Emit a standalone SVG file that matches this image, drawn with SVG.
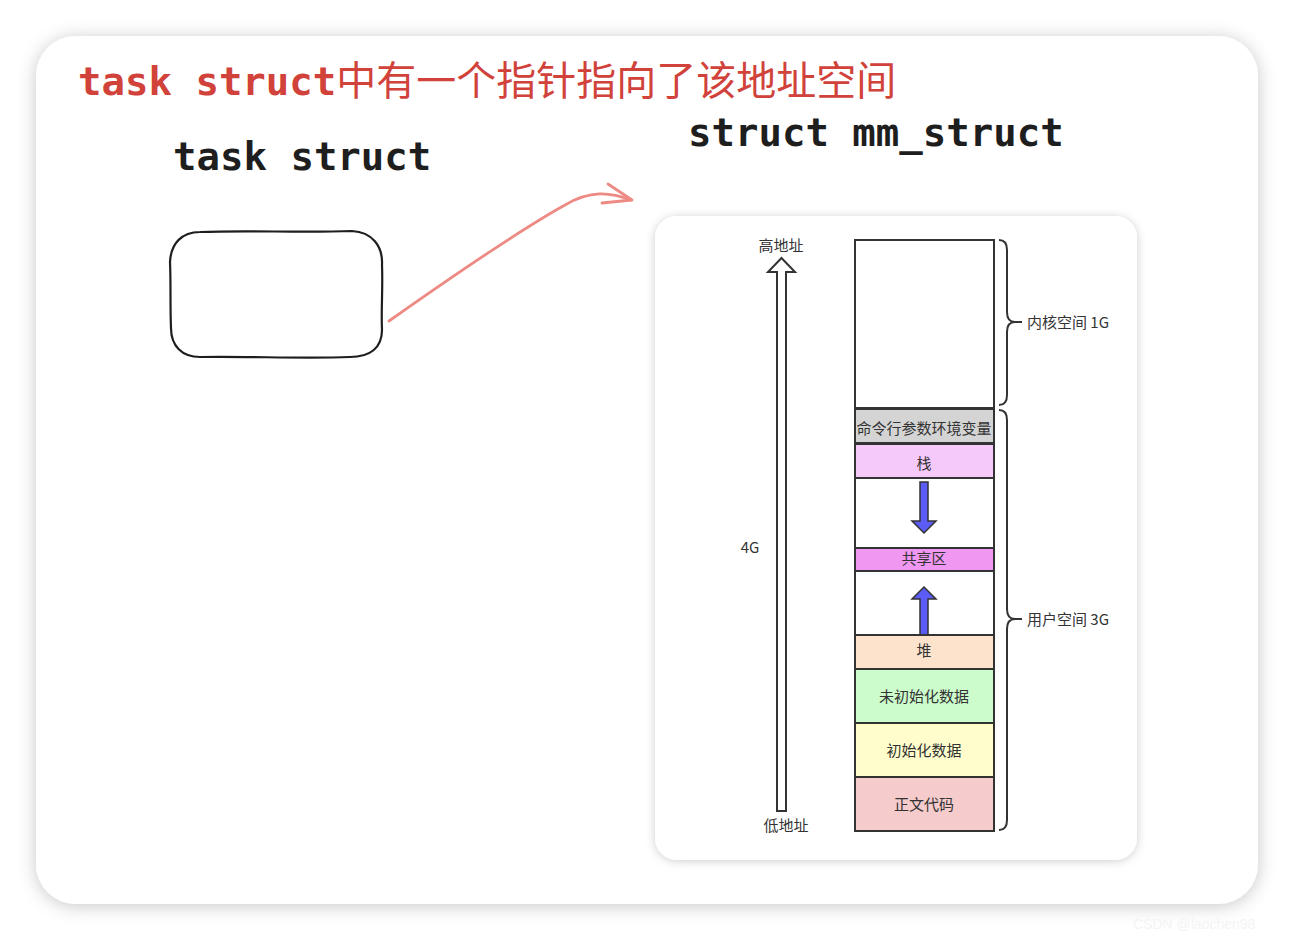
<svg xmlns="http://www.w3.org/2000/svg" width="1294" height="940" viewBox="0 0 1294 940">
<defs>
<filter id="sh" x="-10%" y="-10%" width="120%" height="120%">
<feDropShadow dx="0" dy="2" stdDeviation="9" flood-color="#000" flood-opacity="0.22"/>
</filter>
<filter id="sh2" x="-10%" y="-10%" width="120%" height="120%">
<feDropShadow dx="0" dy="1" stdDeviation="5" flood-color="#000" flood-opacity="0.2"/>
</filter>
<style>
.mono{font-family:"DejaVu Sans Mono","Liberation Mono",monospace;font-weight:bold;font-size:39px;fill:#1e1e1e}
.cjk{font-family:"Noto Sans CJK SC","Noto Sans",sans-serif;font-size:15px;fill:#333}
.seg{stroke:#333;stroke-width:2}
.lbl{font-family:"Noto Sans CJK SC","Noto Sans",sans-serif;font-size:15px;fill:#333;text-anchor:middle}
.brace{fill:none;stroke:#333;stroke-width:2}
.blue{fill:#5b5bf6;stroke:#333;stroke-width:1.5}
</style>
</defs>
<rect width="1294" height="940" fill="#ffffff"/>
<rect x="36" y="36" width="1222" height="868" rx="40" fill="#fff" filter="url(#sh)"/>
<text x="78" y="95" class="mono" style="fill:#d1423b">task struct<tspan style="font-family:'Noto Sans CJK SC',sans-serif;font-weight:400;font-size:40px">中有一个指针指向了该地址空间</tspan></text>
<g id="task_struct">
<text x="173" y="170" class="mono">task struct</text>
<path d="M200,232 C250,230 300,233 352,231 C372,232 383,246 382,265 C383,290 381,310 382,330 C382,348 370,357 350,357 C300,359 250,356 200,357 C182,357 171,346 171,328 C170,305 171,285 170,262 C171,243 182,232 200,232 Z" fill="#fff" stroke="#1e1e1e" stroke-width="2.2"/>
</g>
<g id="connectors">
<path d="M389,321 C450,278 520,230 565,205 C590,190 610,192 631,200" fill="none" stroke="#ee8a84" stroke-width="2.8" stroke-linecap="round"/>
<path d="M608,184 L632,200 L602,203" fill="none" stroke="#ee8a84" stroke-width="2.8" stroke-linecap="round" stroke-linejoin="round"/>
</g>
<g id="mm_struct">
<text x="688" y="146" class="mono">struct mm_struct</text>
<rect x="655" y="216" width="482" height="644" rx="22" fill="#fff" filter="url(#sh2)"/>
<g id="addr_arrow">
<path d="M777,811 L777,272 L768,272 L781.5,258 L795,272 L786,272 L786,811 Z" fill="#fff" stroke="#333" stroke-width="2"/>
<text x="781" y="251" class="cjk" text-anchor="middle">高地址</text>
<text x="786" y="831" class="cjk" text-anchor="middle">低地址</text>
<text x="750" y="553" class="cjk" text-anchor="middle">4G</text>
</g>
<g id="kernel"><rect x="855" y="240" width="139" height="168" fill="#fff" class="seg"/></g>
<g id="env"><rect x="855" y="409" width="139" height="34" fill="#d4d4d4" class="seg"/><text x="924" y="434" class="lbl">命令行参数环境变量</text></g>
<g id="stack"><rect x="855" y="444" width="139" height="34" fill="#f5c9f9" class="seg"/><text x="924" y="469" class="lbl">栈</text></g>
<g id="gap1"><rect x="855" y="478" width="139" height="70" fill="#fff" class="seg"/>
<path d="M920,482 L928,482 L928,521 L936,521 L924,533 L912,521 L920,521 Z" class="blue"/></g>
<g id="shared"><rect x="855" y="548" width="139" height="23" fill="#ef97f1" class="seg"/><text x="924" y="564" class="lbl">共享区</text></g>
<g id="gap2"><rect x="855" y="571" width="139" height="64" fill="#fff" class="seg"/>
<path d="M920,635 L928,635 L928,599 L936,599 L924,587 L912,599 L920,599 Z" class="blue"/></g>
<g id="heap"><rect x="855" y="635" width="139" height="34" fill="#fde3cb" class="seg"/><text x="924" y="656" class="lbl">堆</text></g>
<g id="bss"><rect x="855" y="669" width="139" height="54" fill="#ccfccc" class="seg"/><text x="924" y="702" class="lbl">未初始化数据</text></g>
<g id="data"><rect x="855" y="723" width="139" height="54" fill="#fffdcc" class="seg"/><text x="924" y="756" class="lbl">初始化数据</text></g>
<g id="text_seg"><rect x="855" y="777" width="139" height="54" fill="#f5cbcc" class="seg"/><text x="924" y="810" class="lbl">正文代码</text></g>
<g id="kernel_brace">
<path d="M999,240 Q1007,240 1007,250 L1007,312 Q1007,322 1015,322 L1022,322 M1015,322 Q1007,322 1007,332 L1007,395 Q1007,405 999,405" class="brace"/>
<text x="1027" y="328" class="cjk">内核空间 1G</text>
</g>
<g id="user_brace">
<path d="M999,410 Q1007,410 1007,420 L1007,609 Q1007,619 1015,619 L1022,619 M1015,619 Q1007,619 1007,629 L1007,820 Q1007,830 999,830" class="brace"/>
<text x="1027" y="625" class="cjk">用户空间 3G</text>
</g>
</g>
<text x="1133" y="929" font-family="Liberation Sans,sans-serif" font-size="14" fill="#f4f4f4">CSDN @laochen98</text>
</svg>
